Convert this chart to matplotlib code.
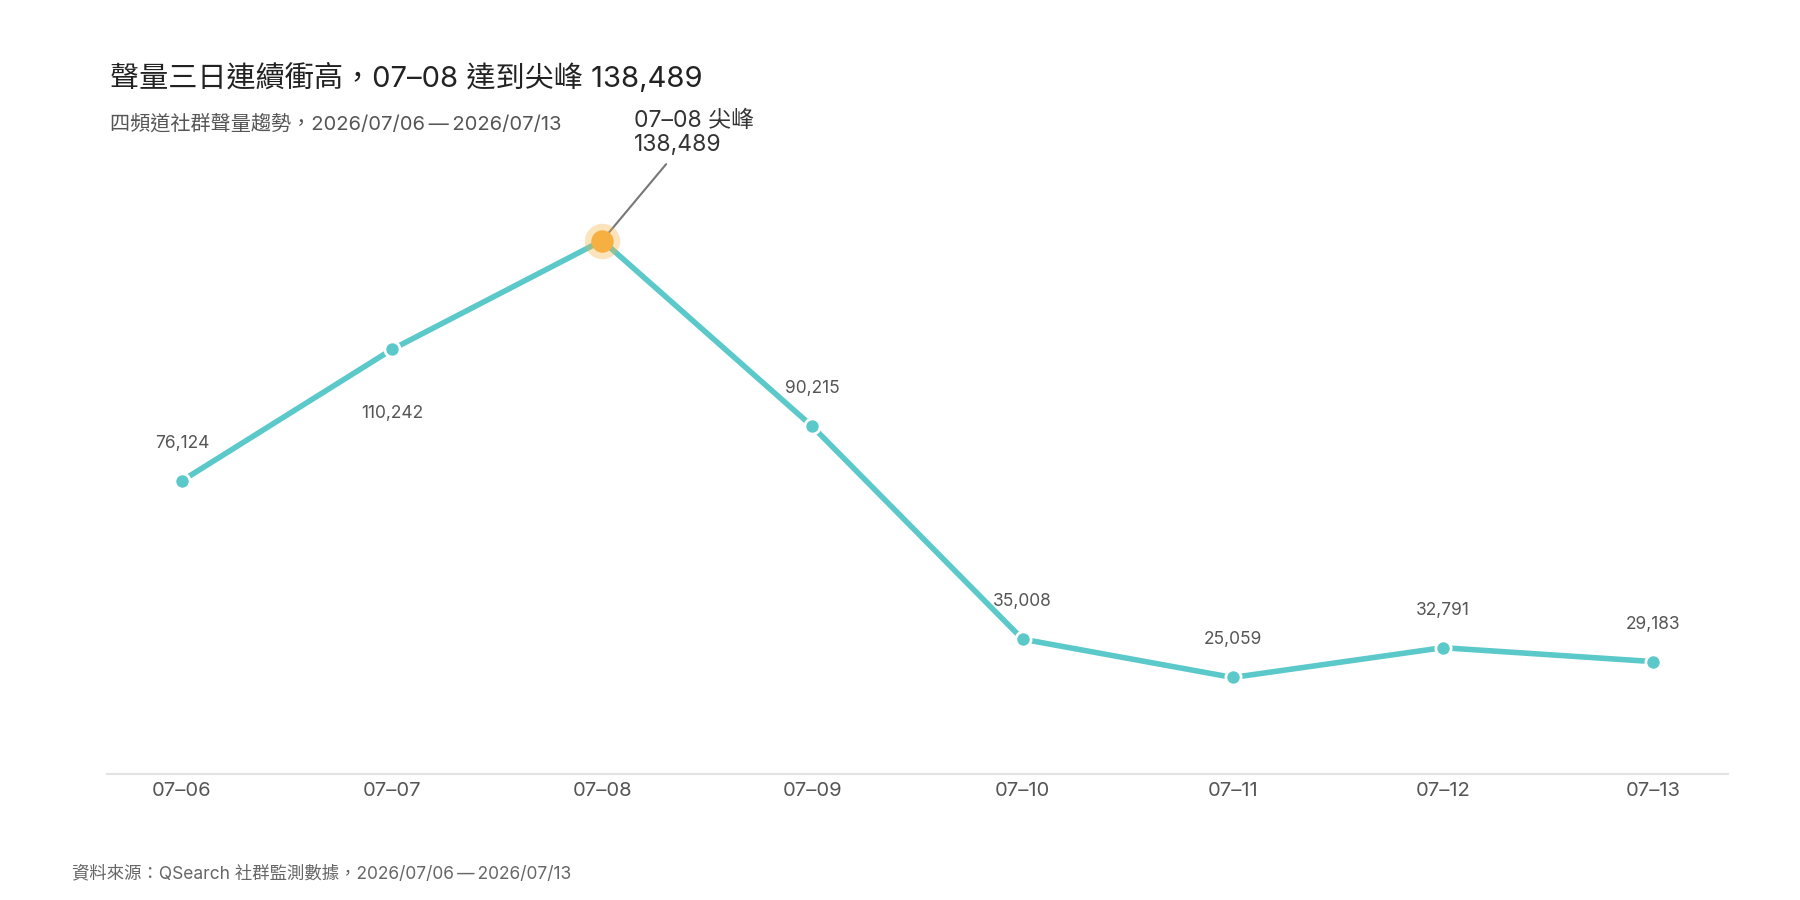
import matplotlib
matplotlib.use('Agg')
import matplotlib.pyplot as plt

plt.rcParams['font.family'] = ['Inter', 'Noto Sans CJK TC', 'DejaVu Sans']

dates = ['07–06', '07–07', '07–08', '07–09', '07–10', '07–11', '07–12', '07–13']
volume = [76124, 110242, 138489, 90215, 35008, 25059, 32791, 29183]
label_below = [False, True, False, False, False, False, False, False]
peak_idx = 2

teal = '#5BC8C9'
orange = '#F5B041'
text_gray = '#555555'

fig = plt.figure(figsize=(18, 9), dpi=100)
ax = fig.add_axes([0.0594, 0.14, 0.9006, 0.749])

x = list(range(len(dates)))
ax.plot(x, volume, color=teal, linewidth=4, zorder=2, solid_capstyle='round')
ax.scatter(x, volume, s=120, color=teal, edgecolor='white', linewidth=2, zorder=3)

# peak highlight
ax.scatter([peak_idx], [volume[peak_idx]], s=650, color=orange, alpha=0.35, zorder=4, linewidth=0)
ax.scatter([peak_idx], [volume[peak_idx]], s=260, color=orange, zorder=5, linewidth=0)

for i, v in enumerate(volume):
    if i == peak_idx:
        continue
    dy = -46 if label_below[i] else 27
    ax.annotate(f'{v:,}', (i, v), xytext=(0, dy), textcoords='offset points',
                ha='center', va='center', fontsize=12.5, color=text_gray)

# leader line + peak label
ax.annotate('', (peak_idx, volume[peak_idx]), xytext=(46, 55), textcoords='offset points',
            arrowprops=dict(arrowstyle='-', color='#777777', lw=1.5, shrinkA=0, shrinkB=4))
ax.annotate(f'{dates[peak_idx]} 尖峰\n{volume[peak_idx]:,}', (peak_idx, volume[peak_idx]),
            xytext=(23, 61), textcoords='offset points', ha='left', va='bottom',
            fontsize=16.5, color='#333333', linespacing=1.1)

ax.set_xlim(-0.357, 7.357)
ax.set_ylim(0, 175000)
ax.set_xticks(x)
ax.set_xticklabels(dates, fontsize=14.5, color=text_gray)
ax.set_yticks([])
ax.tick_params(axis='x', length=0, pad=6)
for s in ['top', 'right', 'left']:
    ax.spines[s].set_visible(False)
ax.spines['bottom'].set_color('#e3e3e3')
ax.spines['bottom'].set_linewidth(1.5)

period = '2026/07/06\u2009—\u20092026/07/13'
fig.text(0.061, 0.913, '聲量三日連續衝高，07–08 達到尖峰 138,489', fontsize=21,
         color='#222222', va='center', ha='left')
fig.text(0.061, 0.862, '四頻道社群聲量趨勢，' + period, fontsize=14.5,
         color=text_gray, va='center', ha='left')
fig.text(0.04, 0.028, '資料來源：QSearch 社群監測數據，' + period, fontsize=12.5,
         color='#666666', va='center', ha='left')

fig.savefig('out.png', dpi=100, facecolor='white')
